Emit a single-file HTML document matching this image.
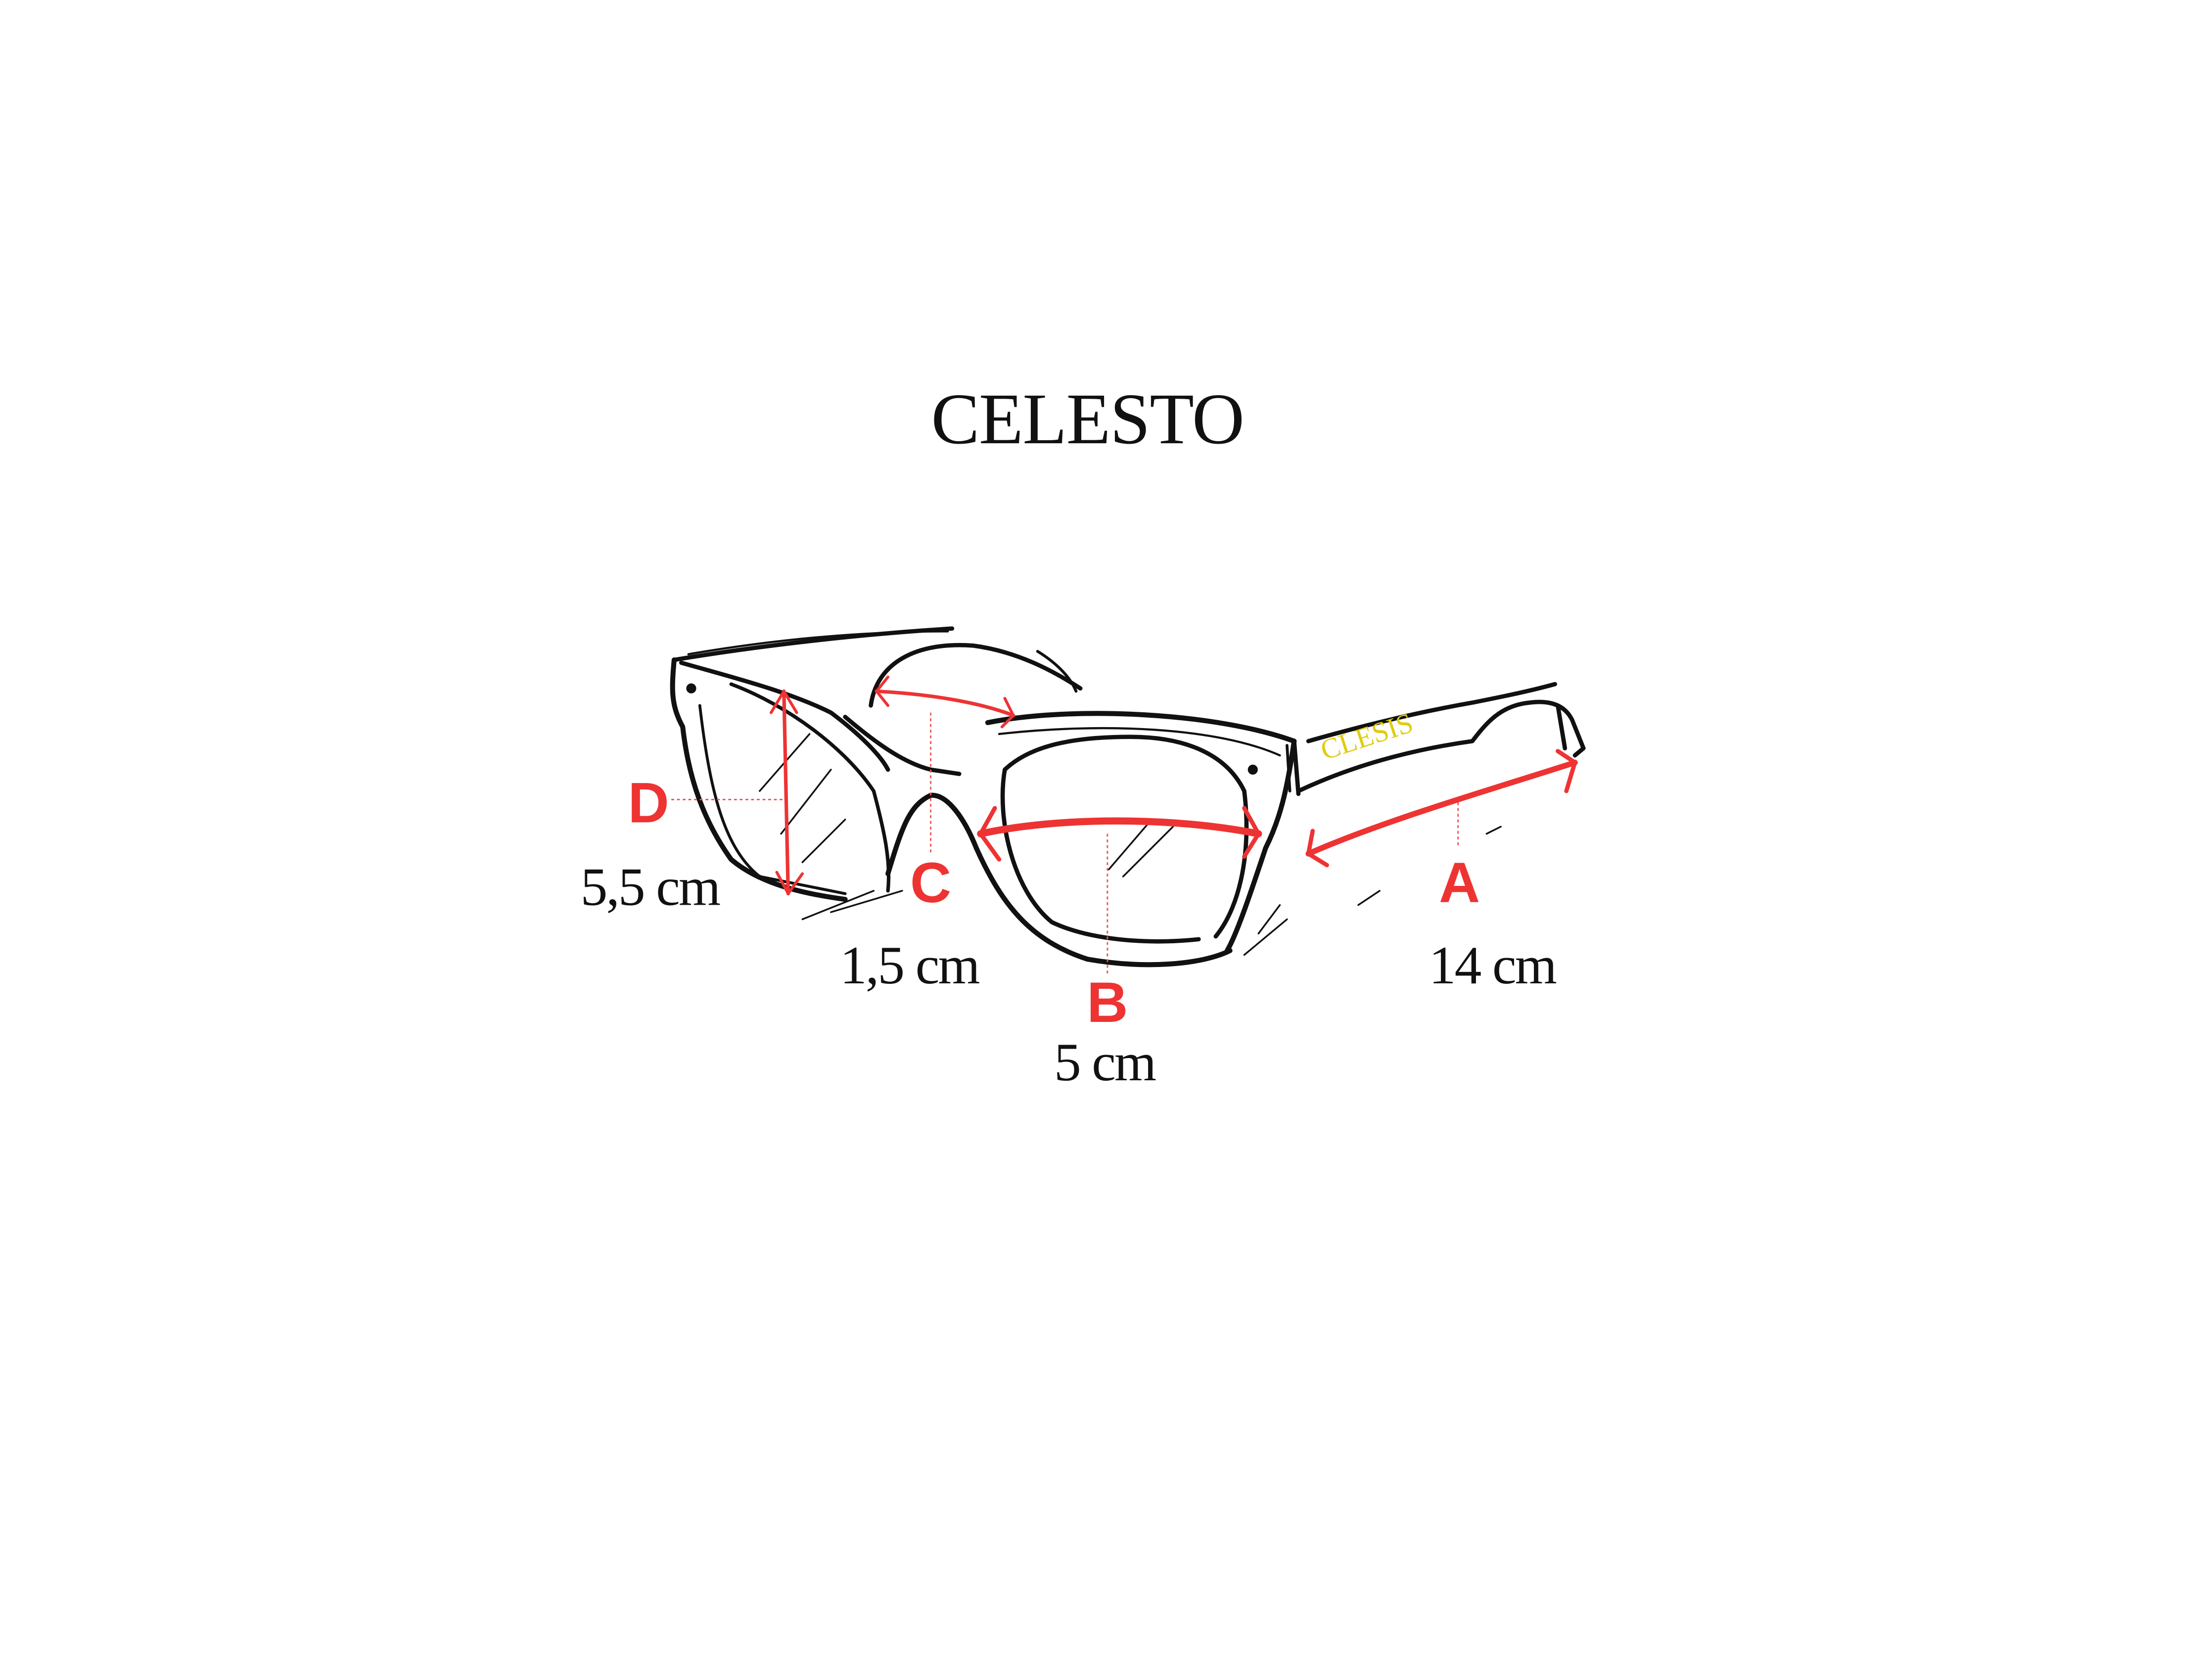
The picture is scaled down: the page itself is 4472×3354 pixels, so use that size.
<!DOCTYPE html>
<html><head><meta charset="utf-8"><style>
html,body{margin:0;padding:0;background:#fff;}
svg{display:block}
</style></head><body>
<svg width="4472" height="3354" viewBox="0 0 1552 1164" xmlns="http://www.w3.org/2000/svg">
<rect width="1552" height="1164" fill="#fff"/>
<g transform="translate(-7,-5)">
<text x="770" y="316" text-anchor="middle" font-family="Liberation Serif, serif" font-size="51" fill="#111" letter-spacing="-0.5">CELESTO</text>

<g fill="none" stroke="#111" stroke-linecap="round" stroke-linejoin="round">
  <path d="M480,468 C540,458 610,450 675,446" stroke-width="3"/>
  <path d="M490,464 C560,452 620,448 672,448" stroke-width="1.5"/>
  <path d="M480,468 C478,490 478,500 486,515 C490,550 500,580 520,608 C540,625 570,632 600,636" stroke-width="3.5"/>
  <path d="M485,470 C520,480 560,490 590,505 C610,520 625,535 630,545" stroke-width="3"/>
  <path d="M520,485 C560,500 600,530 620,560 C628,590 632,610 630,630" stroke-width="2.5"/>
  <path d="M498,500 C505,560 515,600 540,620 L600,632" stroke-width="2"/>
  <path d="M618,500 C622,470 650,455 690,458 C720,462 745,475 765,488" stroke-width="3"/>
  <path d="M735,462 C748,470 758,480 762,490" stroke-width="2"/>
  <path d="M600,508 C620,525 640,540 660,545 L680,548" stroke-width="3"/>
  <path d="M630,618 C640,585 645,570 660,563 C672,562 684,580 692,600" stroke-width="3.5"/>
  <path d="M700,512 C760,500 860,505 915,525" stroke-width="3.5"/>
  <path d="M708,520 C780,512 860,515 905,535" stroke-width="1.5"/>
  <path d="M692,600 C710,640 730,665 770,678 C810,685 850,682 870,672" stroke-width="3.5"/>
  <path d="M915,525 C910,560 905,580 895,600 C885,630 875,660 868,672" stroke-width="3.5"/>
  <path d="M712,545 C730,528 760,522 800,522 C840,522 868,535 880,560 C885,600 878,640 860,662" stroke-width="3"/>
  <path d="M712,545 C706,580 718,630 745,652 C770,664 810,668 848,664" stroke-width="3"/>
  <path d="M915,525 L918,562" stroke-width="3"/>
  <path d="M910,528 L912,560" stroke-width="2"/>
  <circle cx="886" cy="545" r="3" fill="#111"/>
  <circle cx="492" cy="488" r="3" fill="#111"/>
  <path d="M925,525 C960,515 1000,505 1040,498 C1060,494 1080,490 1098,485" stroke-width="3"/>
  <path d="M918,560 C950,545 990,532 1040,525 C1050,512 1060,500 1080,498 C1095,496 1105,500 1110,510 L1118,530 L1112,535" stroke-width="3"/>
  <path d="M1100,500 L1105,530" stroke-width="3"/>
  <path d="M540,560 L575,520 M555,590 L590,545 M570,610 L600,580 M785,615 L815,580 M795,620 L830,585 M570,650 L620,630 M590,645 L640,630 M880,675 L910,650 M890,660 L905,640 M960,640 L975,630 M1050,590 L1060,585" stroke-width="1.2"/>
</g>

<text x="968" y="528" transform="rotate(-18 968 528)" text-anchor="middle" font-family="Liberation Serif, serif" font-size="20" fill="#e0cc10">CLESIS</text>

<g stroke="#e55" stroke-width="1" stroke-dasharray="2,2" fill="none">
  <path d="M478,566 L556,566"/>
  <path d="M660,505 L660,605"/>
  <path d="M784,590 L784,690"/>
  <path d="M1030,568 L1030,600"/>
</g>

<g stroke="#ee3333" fill="none" stroke-linecap="round" stroke-linejoin="round">
  <path d="M557,490 L560,632" stroke-width="2.5"/>
  <path d="M548,505 L557,490 L566,505" stroke-width="2"/>
  <path d="M552,617 L560,632 L570,618" stroke-width="2"/>
  <path d="M622,490 C660,492 695,498 718,507" stroke-width="2.5"/>
  <path d="M630,480 L622,490 L630,500" stroke-width="2"/>
  <path d="M712,495 L718,507 L710,515" stroke-width="2"/>
  <path d="M695,590 C750,578 830,578 890,590" stroke-width="5"/>
  <path d="M705,572 L695,590 L708,608" stroke-width="3"/>
  <path d="M880,572 L890,590 L880,606" stroke-width="3"/>
  <path d="M925,604 C980,580 1050,560 1112,540" stroke-width="4"/>
  <path d="M928,588 L925,604 L938,612" stroke-width="3"/>
  <path d="M1100,532 L1112,540 L1106,560" stroke-width="3"/>
</g>

<g font-family="Liberation Sans, sans-serif" font-weight="bold" fill="#ee3333" font-size="40" text-anchor="middle">
  <text x="462" y="582">D</text>
  <text x="660" y="638">C</text>
  <text x="784" y="722">B</text>
  <text x="1031" y="638">A</text>
</g>
<g font-family="Liberation Serif, serif" fill="#111" font-size="38" text-anchor="middle" letter-spacing="-1">
  <text x="463" y="640">5,5 cm</text>
  <text x="645" y="695">1,5 cm</text>
  <text x="782" y="763">5 cm</text>
  <text x="1054" y="695">14 cm</text>
</g>
</g>
</svg>
</body></html>
